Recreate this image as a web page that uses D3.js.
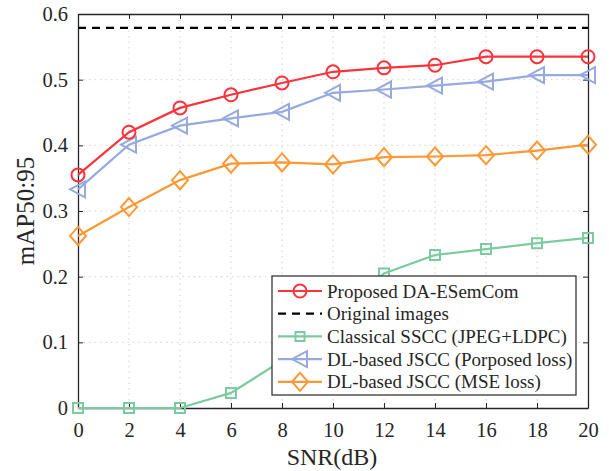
<!DOCTYPE html>
<html><head><meta charset="utf-8">
<script src="https://cdn.jsdelivr.net/npm/d3@7"></script>
<style>body{margin:0;background:#fff}svg{display:block}text{font-family:"Liberation Serif","Times New Roman",Times,serif;fill:#262626}</style>
</head><body>
<svg id="chart" width="609" height="471"></svg>
<script>
const snr = [0, 2, 4, 6, 8, 10, 12, 14, 16, 18, 20];
const proposed = [0.355, 0.420, 0.457, 0.477, 0.495, 0.512, 0.518, 0.522, 0.535, 0.535, 0.535];
const original = 0.579;
const classical = [0, 0, 0, 0.023, 0.072, 0.140, 0.205, 0.233, 0.242, 0.251, 0.259];
const dlProposed = [0.333, 0.401, 0.430, 0.441, 0.451, 0.480, 0.485, 0.491, 0.497, 0.507, 0.507];
const dlMSE = [0.262, 0.306, 0.347, 0.372, 0.374, 0.371, 0.382, 0.383, 0.385, 0.392, 0.401];
const xTicks = [0, 2, 4, 6, 8, 10, 12, 14, 16, 18, 20];
const yTicks = [0, 0.1, 0.2, 0.3, 0.4, 0.5, 0.6];
const legendLabels = ["Proposed DA-ESemCom", "Original images", "Classical SSCC (JPEG+LDPC)", "DL-based JSCC (Porposed loss)", "DL-based JSCC (MSE loss)"];

const svg = d3.select("#chart");
const L = 78, R = 588, T = 14, B = 408;
const x = d3.scaleLinear().domain([0, 20]).range([L, R]);
const y = d3.scaleLinear().domain([0, 0.6]).range([B, T]);
const axisCol = "#262626";
const serif = '"Liberation Serif","Times New Roman",Times,serif';

// grid
const g = svg.append("g");
g.selectAll(".gx").data(xTicks.slice(1, -1)).join("line")
  .attr("x1", d => x(d)).attr("x2", d => x(d)).attr("y1", T).attr("y2", B)
  .attr("stroke", "#d0d0d0").attr("stroke-width", 1).attr("stroke-dasharray", "1.5,4");
g.selectAll(".gy").data(yTicks.slice(1, -1)).join("line")
  .attr("x1", L).attr("x2", R).attr("y1", d => y(d)).attr("y2", d => y(d))
  .attr("stroke", "#d0d0d0").attr("stroke-width", 1).attr("stroke-dasharray", "1.5,4");

// axes
const fmtY = d => d === 0 ? "0" : d3.format(".1f")(d);
const ax = svg.append("g").attr("transform", `translate(0,${B})`)
  .call(d3.axisBottom(x).tickValues(xTicks).tickSizeInner(-5).tickSizeOuter(0).tickPadding(14));
const ay = svg.append("g").attr("transform", `translate(${L},0)`)
  .call(d3.axisLeft(y).tickValues(yTicks).tickFormat(fmtY).tickSizeInner(-5).tickSizeOuter(0).tickPadding(10));
const axT = svg.append("g").attr("transform", `translate(0,${T})`)
  .call(d3.axisTop(x).tickValues(xTicks).tickSizeInner(-5).tickSizeOuter(0).tickFormat(""));
const ayR = svg.append("g").attr("transform", `translate(${R},0)`)
  .call(d3.axisRight(y).tickValues(yTicks).tickSizeInner(-5).tickSizeOuter(0).tickFormat(""));
[ax, ay, axT, ayR].forEach(a => {
  a.selectAll("path").attr("stroke", axisCol).attr("stroke-width", 1.3);
  a.selectAll("line").attr("stroke", axisCol).attr("stroke-width", 1);
  a.selectAll("text").style("font-family", serif).style("font-size", "20.5px").attr("fill", axisCol);
});

// series
const colors = { red: "#fb343c", black: "#000", green: "#7bcaa0", blue: "#96aadf", orange: "#fd9834" };
const line = d3.line().x((d, i) => x(snr[i])).y(d => y(d));

function drawSeries(vals, color, marker) {
  const s = svg.append("g");
  s.append("path").datum(vals).attr("d", line).attr("fill", "none").attr("stroke", color).attr("stroke-width", 2.2);
  s.selectAll("path.m").data(vals).join("path").attr("class", "m")
    .attr("transform", (d, i) => `translate(${x(snr[i])},${y(d)})`)
    .attr("d", marker).attr("fill", "none").attr("stroke", color).attr("stroke-width", 2);
}
const circ = "M6.5,0A6.5,6.5,0,1,1,-6.5,0A6.5,6.5,0,1,1,6.5,0Z";
const sq = "M-5,-5H5V5H-5Z";
const tri = "M-8,0L7,-8V8Z";
const dia = "M0,-9L8,0L0,9L-8,0Z";

svg.append("line").attr("x1", x(0)).attr("x2", x(20)).attr("y1", y(original)).attr("y2", y(original))
  .attr("stroke", "#000").attr("stroke-width", 2.2).attr("stroke-dasharray", "8,6");
drawSeries(classical, colors.green, sq);
drawSeries(dlMSE, colors.orange, dia);
drawSeries(dlProposed, colors.blue, tri);
drawSeries(proposed, colors.red, circ);

// axis labels
svg.append("text").attr("x", 332).attr("y", 465).attr("text-anchor", "middle").style("font-family", serif).style("font-size", "24px").text("SNR(dB)");
svg.append("text").attr("transform", "translate(34,211) rotate(-90)").attr("text-anchor", "middle").style("font-family", serif).style("font-size", "25px").text("mAP50:95");

// legend
const lg = svg.append("g");
lg.append("rect").attr("x", 272).attr("y", 276).attr("width", 304).attr("height", 119)
  .attr("fill", "#fff").attr("stroke", axisCol).attr("stroke-width", 1.2);
const legItems = [
  { c: colors.red, m: circ, dash: null },
  { c: colors.black, m: null, dash: "8,6" },
  { c: colors.green, m: "M-4.5,-4.5H4.5V4.5H-4.5Z", dash: null },
  { c: colors.blue, m: tri, dash: null },
  { c: colors.orange, m: dia, dash: null }
];
legItems.forEach((it, i) => {
  const yy = 291 + i * 22.7;
  lg.append("line").attr("x1", 278).attr("x2", 322).attr("y1", yy).attr("y2", yy)
    .attr("stroke", it.c).attr("stroke-width", 2.2).attr("stroke-dasharray", it.dash);
  if (it.m) lg.append("path").attr("transform", `translate(300,${yy})`).attr("d", it.m)
    .attr("fill", "none").attr("stroke", it.c).attr("stroke-width", 2);
  lg.append("text").attr("x", 327).attr("y", yy + 6.5).style("font-family", serif).style("font-size", "19px").text(legendLabels[i]);
});
</script>
</body></html>
